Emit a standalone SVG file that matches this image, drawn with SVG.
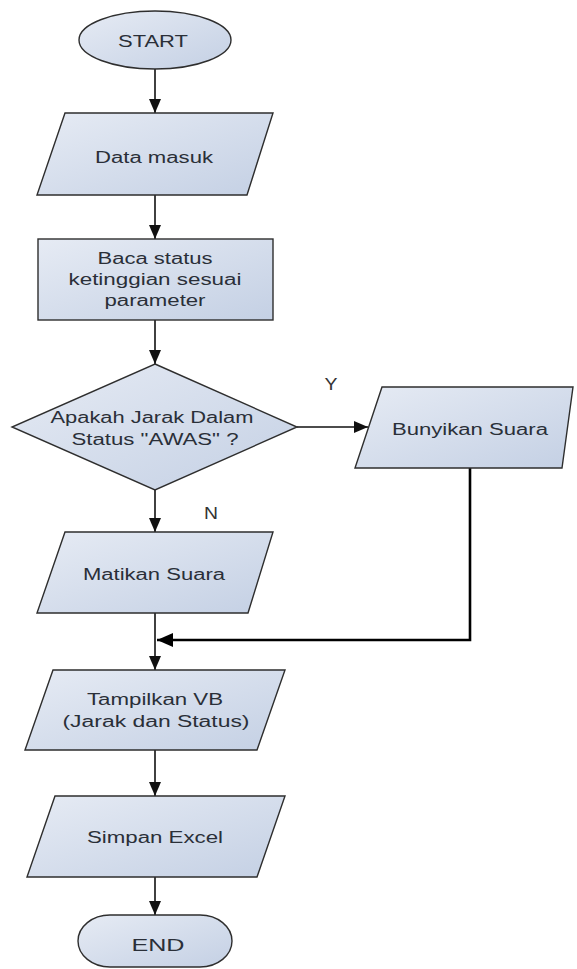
<svg xmlns="http://www.w3.org/2000/svg" width="577" height="969" viewBox="0 0 577 969">
<defs>
<linearGradient id="fillg" x1="0" y1="0" x2="1" y2="1">
<stop offset="0" stop-color="#e6ebf4"/>
<stop offset="1" stop-color="#c4d0e4"/>
</linearGradient>
<marker id="arr" markerUnits="userSpaceOnUse" markerWidth="14" markerHeight="12" refX="14" refY="6" orient="auto">
<path d="M0,0 L14,6 L0,12 z" fill="#111"/>
</marker>
<marker id="arrBig" markerUnits="userSpaceOnUse" markerWidth="16" markerHeight="14" refX="16" refY="7" orient="auto">
<path d="M0,0 L16,7 L0,14 z" fill="#000"/>
</marker>
</defs>
<style>
.shape{fill:url(#fillg);stroke:#2e2e2e;stroke-width:1.4}
.t{font-family:"Liberation Sans",Arial,sans-serif;font-size:16px;fill:#2a2f38;text-anchor:middle}
.lbl{font-family:"Liberation Sans",Arial,sans-serif;font-size:16px;fill:#333;text-anchor:middle}
.c{fill:none;stroke:#111;stroke-width:1.6}
.cb{fill:none;stroke:#000;stroke-width:2.6}
</style>
<rect width="577" height="969" fill="#ffffff"/>

<g id="connectors">
<line class="c" x1="155" y1="69" x2="155" y2="113" marker-end="url(#arr)"/>
<line class="c" x1="155" y1="195" x2="155" y2="239" marker-end="url(#arr)"/>
<line class="c" x1="155" y1="320" x2="155" y2="364" marker-end="url(#arr)"/>
<line class="c" x1="297" y1="427" x2="368" y2="427" marker-end="url(#arr)"/>
<line class="c" x1="155" y1="490" x2="155" y2="532" marker-end="url(#arr)"/>
<line class="c" x1="155" y1="613" x2="155" y2="670" marker-end="url(#arr)"/>
<polyline class="cb" points="470,468 470,640 157,640" marker-end="url(#arrBig)"/>
<line class="c" x1="155" y1="750" x2="155" y2="796" marker-end="url(#arr)"/>
<line class="c" x1="155" y1="877" x2="155" y2="915" marker-end="url(#arr)"/>
<text class="lbl" x="331" y="390" textLength="13" lengthAdjust="spacingAndGlyphs">Y</text>
<text class="lbl" x="211" y="519" textLength="14" lengthAdjust="spacingAndGlyphs">N</text>
</g>

<g id="start">
<ellipse class="shape" cx="155" cy="40" rx="76" ry="29"/>
<text class="t" x="153" y="47" textLength="70" lengthAdjust="spacingAndGlyphs">START</text>
</g>

<g id="data-masuk">
<polygon class="shape" points="65,113 273,113 247,195 37,195"/>
<text class="t" x="154" y="163" textLength="118" lengthAdjust="spacingAndGlyphs">Data masuk</text>
</g>

<g id="baca-status">
<rect class="shape" x="38" y="239" width="235" height="81"/>
<text class="t" x="155" y="264" textLength="115" lengthAdjust="spacingAndGlyphs">Baca status</text>
<text class="t" x="155" y="285" textLength="173" lengthAdjust="spacingAndGlyphs">ketinggian sesuai</text>
<text class="t" x="155" y="306" textLength="101" lengthAdjust="spacingAndGlyphs">parameter</text>
</g>

<g id="decision">
<polygon class="shape" points="155,364 297,427 155,490 12,427"/>
<text class="t" x="152" y="423" textLength="203" lengthAdjust="spacingAndGlyphs">Apakah Jarak Dalam</text>
<text class="t" x="155" y="445" textLength="167" lengthAdjust="spacingAndGlyphs">Status "AWAS" ?</text>
</g>

<g id="bunyikan-suara">
<polygon class="shape" points="382,387 573,387 562,468 355,468"/>
<text class="t" x="470" y="435" textLength="156" lengthAdjust="spacingAndGlyphs">Bunyikan Suara</text>
</g>

<g id="matikan-suara">
<polygon class="shape" points="65,532 273,532 248,613 37,613"/>
<text class="t" x="154" y="580" textLength="142" lengthAdjust="spacingAndGlyphs">Matikan Suara</text>
</g>

<g id="tampilkan-vb">
<polygon class="shape" points="53,670 285,670 257,750 25,750"/>
<text class="t" x="155" y="705" textLength="136" lengthAdjust="spacingAndGlyphs">Tampilkan VB</text>
<text class="t" x="156" y="727" textLength="187" lengthAdjust="spacingAndGlyphs">(Jarak dan Status)</text>
</g>

<g id="simpan-excel">
<polygon class="shape" points="55,796 285,796 257,877 27,877"/>
<text class="t" x="155" y="843" textLength="136" lengthAdjust="spacingAndGlyphs">Simpan Excel</text>
</g>

<g id="end">
<rect class="shape" x="78" y="915" width="154" height="52" rx="32" ry="26"/>
<text class="t" x="158" y="951" textLength="53" lengthAdjust="spacingAndGlyphs">END</text>
</g>
</svg>
